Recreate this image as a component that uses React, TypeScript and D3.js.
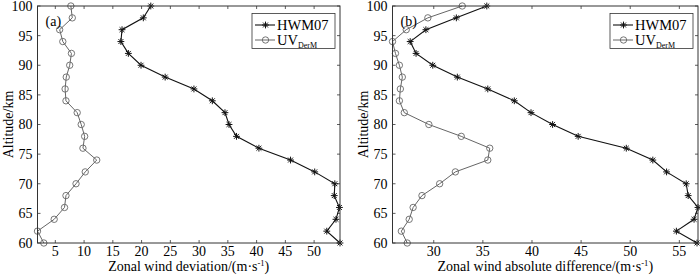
import React from "react";
import * as d3 from "d3";

const altitudes = [60, 62, 64, 66, 68, 70, 72, 74, 76, 78, 80, 82, 84, 86, 88, 90, 92, 94, 96, 98, 100];
const hwmA = [54.5, 52.2, 53.8, 54.4, 53.5, 53.6, 50.1, 45.9, 40.4, 36.5, 35.2, 34.5, 32.3, 29.1, 24.1, 19.9, 17.7, 16.4, 16.6, 20.3, 21.6];
const uvA = [3.0, 1.9, 4.8, 6.6, 6.85, 8.6, 10.2, 12.2, 9.8, 10.1, 9.5, 8.8, 6.85, 6.7, 6.9, 7.5, 7.8, 6.3, 5.75, 7.95, 7.7];
const hwmB = [56.8, 54.7, 56.5, 56.9, 55.9, 55.7, 53.7, 52.3, 49.6, 44.7, 42.1, 39.9, 38.2, 35.5, 32.4, 29.9, 28.2, 27.6, 29.2, 32.3, 35.4];
const uvB = [27.3, 26.7, 27.5, 27.9, 28.8, 30.6, 32.2, 35.5, 35.7, 32.8, 29.5, 27.0, 26.5, 26.6, 26.8, 26.5, 26.1, 25.8, 27.2, 29.4, 32.9];
const yTicks = [60, 65, 70, 75, 80, 85, 90, 95, 100];
const xTicksA = [5, 10, 15, 20, 25, 30, 35, 40, 45, 50];
const xTicksB = [30, 35, 40, 45, 50, 55];
const seriesNames = ["HWM07", "UV"];
const uvSub = "DerM";
const panelLabels = ["(a)", "(b)"];
const xTitles = ["Zonal wind deviation/(m·s", "Zonal wind absolute difference/(m·s"];
const yTitle = "Altitude/km";

const FONT = '"Liberation Serif", "DejaVu Serif", serif';
const AXIS = "#333";
const HWM_COLOR = "#111";
const UV_COLOR = "#666";
const txt = { fontFamily: FONT, fontSize: "14px" } as React.CSSProperties;
const legTxt = { fontFamily: FONT, fontSize: "14.5px" } as React.CSSProperties;

function star(cx: number, cy: number, r: number) {
  const d = r * 0.72;
  return `M${cx - r},${cy}L${cx + r},${cy}M${cx},${cy - r}L${cx},${cy + r}M${cx - d},${cy - d}L${cx + d},${cy + d}M${cx - d},${cy + d}L${cx + d},${cy - d}`;
}

type PanelProps = {
  left: number; right: number; top: number; bottom: number;
  hwm: number[]; uv: number[]; xTicks: number[]; label: string; xTitle: string;
};

function Panel({ left, right, top, bottom, hwm, uv, xTicks, label, xTitle }: PanelProps) {
  const ext = d3.extent([...hwm, ...uv]) as [number, number];
  const x = d3.scaleLinear().domain(ext).range([left, right]);
  const y = d3.scaleLinear().domain([60, 100]).range([bottom, top]);
  const line = d3.line<number>().x((v) => x(v)).y((_, i) => y(altitudes[i]));
  const tl = 3;
  const cx = (left + right) / 2;
  const cy = (top + bottom) / 2;
  const lx = right - 88;
  return (
    <g>
      {yTicks.map((t) => (
        <g key={"y" + t}>
          <line x1={left} x2={left + tl} y1={y(t)} y2={y(t)} stroke={AXIS} strokeWidth={0.8} />
          <line x1={right} x2={right - tl} y1={y(t)} y2={y(t)} stroke={AXIS} strokeWidth={0.8} />
          <text x={left - 5} y={y(t)} dy="0.35em" textAnchor="end" style={txt}>{t}</text>
        </g>
      ))}
      {xTicks.map((t) => (
        <g key={"x" + t}>
          <line x1={x(t)} x2={x(t)} y1={bottom} y2={bottom - tl} stroke={AXIS} strokeWidth={0.8} />
          <line x1={x(t)} x2={x(t)} y1={top} y2={top + tl} stroke={AXIS} strokeWidth={0.8} />
          <text x={x(t)} y={bottom + 12.5} textAnchor="middle" style={txt}>{t}</text>
        </g>
      ))}
      <text x={cx} y={bottom + 27.5} textAnchor="middle" style={txt}>
        {xTitle}
        <tspan style={{ fontSize: "8.5px" }} dy={-4.5}>-1</tspan>
        <tspan dy={4.5}>)</tspan>
      </text>
      <text transform={`translate(${left - 24.5},${cy}) rotate(-90)`} textAnchor="middle" style={txt}>{yTitle}</text>
      <path d={line(uv) || ""} fill="none" stroke={UV_COLOR} strokeWidth={1} />
      {uv.map((v, i) => (
        <circle key={"u" + i} cx={x(v)} cy={y(altitudes[i])} r={3.2} fill="none" stroke={UV_COLOR} strokeWidth={0.9} />
      ))}
      <path d={line(hwm) || ""} fill="none" stroke={HWM_COLOR} strokeWidth={1.1} />
      {hwm.map((v, i) => (
        <path key={"h" + i} d={star(x(v), y(altitudes[i]), 3.4)} stroke={HWM_COLOR} strokeWidth={1} />
      ))}
      <rect x={left} y={top} width={right - left} height={bottom - top} fill="none" stroke={AXIS} strokeWidth={1} />
      <text x={left + 8} y={top + 20} style={txt}>{label}</text>
      <g>
        <rect x={lx} y={top + 7.5} width={83} height={35} fill="#fff" stroke={AXIS} strokeWidth={0.8} />
        <line x1={lx + 3} x2={lx + 23} y1={top + 19} y2={top + 19} stroke={HWM_COLOR} strokeWidth={1.1} />
        <path d={star(lx + 13.5, top + 19, 3.4)} stroke={HWM_COLOR} strokeWidth={1} />
        <text x={lx + 25} y={top + 19} dy="0.35em" style={legTxt}>{seriesNames[0]}</text>
        <line x1={lx + 3} x2={lx + 23} y1={top + 34} y2={top + 34} stroke={UV_COLOR} strokeWidth={1} />
        <circle cx={lx + 13.5} cy={top + 34} r={3.2} fill="none" stroke={UV_COLOR} strokeWidth={0.9} />
        <text x={lx + 25} y={top + 34} dy="0.35em" style={legTxt}>
          {seriesNames[1]}
          <tspan style={{ fontSize: "8px" }} dy={3}>{uvSub}</tspan>
        </text>
      </g>
    </g>
  );
}

export default function App() {
  return (
    <svg width={700} height={275} style={{ position: "absolute", left: 0, top: 0, background: "#fff" }}>
      <Panel left={37.5} right={340} top={6} bottom={243} hwm={hwmA} uv={uvA} xTicks={xTicksA}
        label={panelLabels[0]} xTitle={xTitles[0]} />
      <Panel left={392.5} right={698} top={6} bottom={243} hwm={hwmB} uv={uvB} xTicks={xTicksB}
        label={panelLabels[1]} xTitle={xTitles[1]} />
    </svg>
  );
}
